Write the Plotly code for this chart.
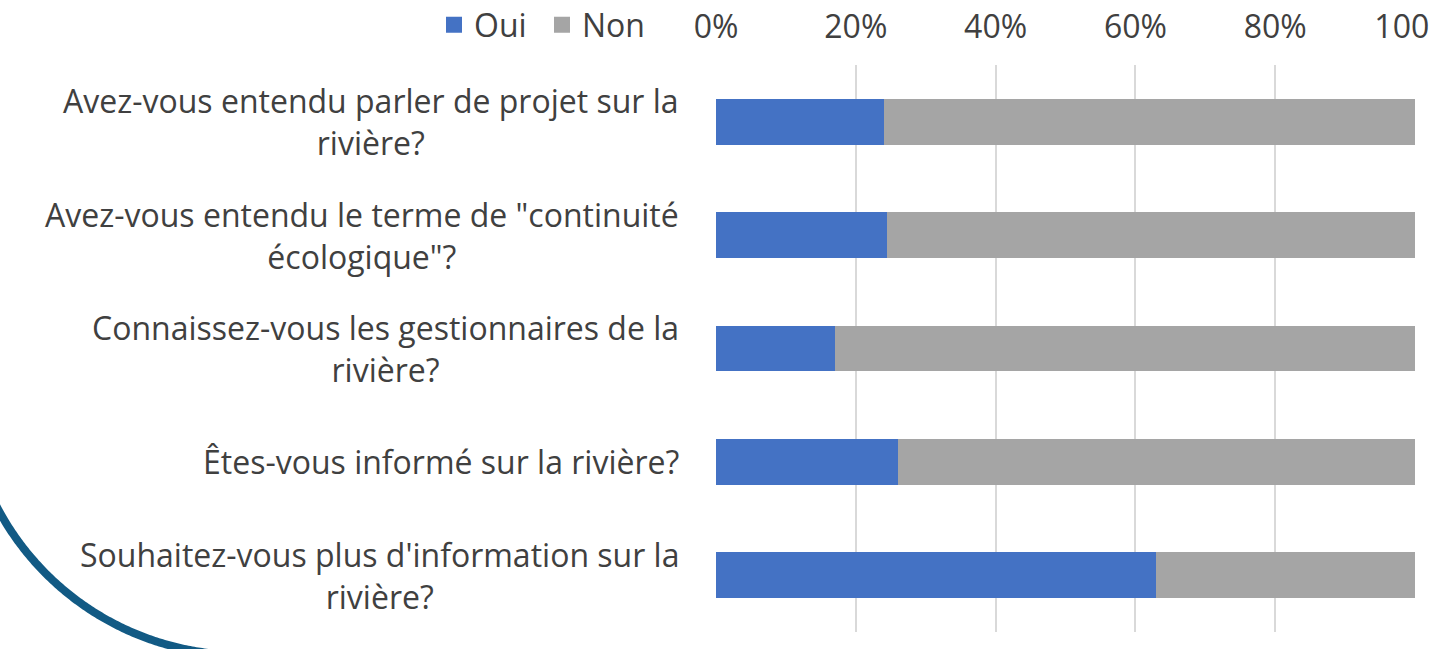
import numpy as np
import plotly.graph_objects as go

questions = [
    "Avez-vous entendu parler de projet sur la<br>rivière?",
    "Avez-vous entendu le terme de \"continuité<br>écologique\"?",
    "Connaissez-vous les gestionnaires de la<br>rivière?",
    "Êtes-vous informé sur la rivière?",
    "Souhaitez-vous plus d'information sur la<br>rivière?",
]
oui = [24, 24.5, 17, 26, 63]
non = [76, 75.5, 83, 74, 37]
tick_vals = [0, 20, 40, 60, 80, 100]
tick_text = ["0%", "20%", "40%", "60%", "80%", "100%"]
series_names = ["Oui", "Non"]
series_colors = ["#4472C4", "#A5A5A5"]

W, H = 1430, 649
ML, MR, MT, MB = 716, 15, 65, 17
PW, PH = W - ML - MR, H - MT - MB
FONT = "Open Sans"
TXT = "#404040"

fig = go.Figure()
cats = list(range(len(questions)))
for name, vals, col in zip(series_names, [oui, non], series_colors):
    fig.add_trace(go.Bar(y=cats, x=vals, name=name, orientation="h", showlegend=False,
                         marker=dict(color=col, line=dict(width=0))))
# legend entries with larger square swatches
for name, col in zip(series_names, series_colors):
    fig.add_trace(go.Scatter(x=[None], y=[None], mode="markers", name=name,
                             marker=dict(symbol="square", size=18, color=col)))

annotations = []
for i, q in enumerate(questions):
    annotations.append(dict(
        x=0, xref="paper", y=i, yref="y", text=q, showarrow=False,
        xanchor="right", yanchor="middle", align="center", xshift=-35,
        font=dict(family=FONT, size=32, color=TXT)))

# decorative arc (pixel geometry converted to paper coords)
cx, cy, r = 242, 378, 277
pts = []
for a in np.linspace(np.deg2rad(205), np.deg2rad(268), 150):
    px = cx + r * np.cos(a)
    py = cy - r * np.sin(a)
    pts.append(((px - ML) / PW, (H - MB - py) / PH))
path = "M " + " L ".join(f"{x:.5f},{y:.5f}" for x, y in pts)

fig.update_layout(
    width=W, height=H,
    margin=dict(l=ML, r=MR, t=MT, b=MB, pad=0, autoexpand=False),
    paper_bgcolor="white", plot_bgcolor="white",
    barmode="stack", bargap=0.595,
    font=dict(family=FONT, size=30, color=TXT),
    showlegend=True,
    legend=dict(orientation="h", x=(434 - ML) / PW, xanchor="left",
                y=(H - MB - 25) / PH, yanchor="middle", traceorder="normal",
                font=dict(family=FONT, size=32, color=TXT),
                itemwidth=30, entrywidth=63, tracegroupgap=0, bgcolor="rgba(0,0,0,0)"),
    xaxis=dict(side="top", range=[0, 100], tickvals=tick_vals, ticktext=tick_text,
               showgrid=True, gridcolor="#D9D9D9", gridwidth=2, zeroline=False,
               showline=False, ticks="", tickfont=dict(family=FONT, size=32, color=TXT),
               ticklabelstandoff=20, ticklabeloverflow="allow", automargin=False,
               fixedrange=True),
    yaxis=dict(range=[len(questions) - 0.5, -0.5], showticklabels=False, showgrid=False,
               zeroline=False, showline=False, ticks="", automargin=False, fixedrange=True),
    annotations=annotations,
    shapes=[dict(type="path", path=path, xref="paper", yref="paper",
                 line=dict(color="#125A84", width=8), layer="above")],
)
fig.write_html("out.html", config={"displayModeBar": False},
               post_script="document.body.style.margin='0';document.body.style.overflow='hidden';")
